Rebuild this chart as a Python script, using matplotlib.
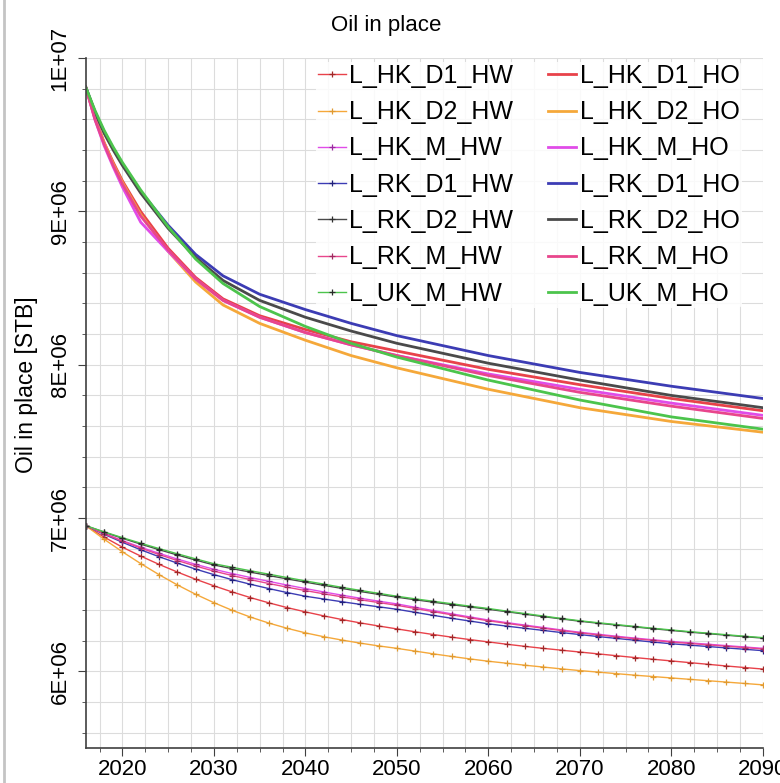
import numpy as np
import matplotlib
matplotlib.use("Agg")
import matplotlib.pyplot as plt
from matplotlib.lines import Line2D
from matplotlib.ticker import MultipleLocator, FuncFormatter

plt.rcParams['font.family'] = ['Liberation Sans', 'DejaVu Sans']

# HO cases (solid), values in million STB
years_ho = [2016, 2017, 2018, 2019, 2020, 2022, 2025, 2028, 2031, 2035,
            2040, 2045, 2050, 2060, 2070, 2080, 2090]
hk_d1_ho = [9.81, 9.61, 9.45, 9.32, 9.20, 9.00, 8.76, 8.57, 8.43, 8.32, 8.23, 8.15, 8.09, 7.97, 7.87, 7.78, 7.70]
hk_d2_ho = [9.81, 9.61, 9.45, 9.31, 9.19, 8.98, 8.74, 8.54, 8.39, 8.27, 8.16, 8.06, 7.98, 7.84, 7.72, 7.63, 7.56]
hk_m_ho = [9.81, 9.60, 9.43, 9.29, 9.16, 8.93, 8.74, 8.56, 8.42, 8.31, 8.21, 8.13, 8.06, 7.94, 7.84, 7.75, 7.67]
rk_d1_ho = [9.81, 9.65, 9.52, 9.41, 9.31, 9.13, 8.91, 8.72, 8.58, 8.46, 8.36, 8.27, 8.19, 8.06, 7.95, 7.86, 7.78]
rk_d2_ho = [9.81, 9.65, 9.51, 9.40, 9.30, 9.12, 8.89, 8.70, 8.55, 8.42, 8.31, 8.22, 8.14, 8.01, 7.90, 7.80, 7.72]
rk_m_ho = [9.81, 9.60, 9.44, 9.30, 9.18, 8.97, 8.75, 8.56, 8.42, 8.31, 8.21, 8.13, 8.06, 7.93, 7.82, 7.73, 7.65]
uk_m_ho = [9.81, 9.66, 9.53, 9.42, 9.32, 9.14, 8.90, 8.69, 8.53, 8.38, 8.25, 8.14, 8.05, 7.90, 7.77, 7.66, 7.58]

# HW cases (thin with markers), every 2 years
years_hw = list(range(2016, 2091, 2))
hk_d1_hw = [6.950, 6.876, 6.810, 6.752, 6.698, 6.648, 6.601, 6.558, 6.518, 6.481,
            6.447, 6.416, 6.388, 6.362, 6.338, 6.316, 6.296, 6.277, 6.258, 6.240,
            6.223, 6.207, 6.192, 6.177, 6.163, 6.150, 6.138, 6.126, 6.114, 6.102,
            6.090, 6.079, 6.068, 6.057, 6.046, 6.035, 6.025, 6.015]
hk_d2_hw = [6.950, 6.862, 6.780, 6.703, 6.631, 6.564, 6.503, 6.448, 6.398, 6.354,
            6.315, 6.281, 6.251, 6.226, 6.204, 6.184, 6.166, 6.150, 6.132, 6.114,
            6.097, 6.081, 6.066, 6.053, 6.040, 6.028, 6.016, 6.005, 5.995, 5.985,
            5.975, 5.966, 5.957, 5.948, 5.939, 5.930, 5.921, 5.912]
hk_m_hw = [6.950, 6.900, 6.853, 6.810, 6.770, 6.733, 6.698, 6.666, 6.638, 6.612,
           6.587, 6.563, 6.540, 6.518, 6.497, 6.477, 6.458, 6.440, 6.418, 6.396,
           6.375, 6.355, 6.335, 6.318, 6.302, 6.286, 6.270, 6.255, 6.242, 6.229,
           6.217, 6.206, 6.195, 6.186, 6.177, 6.168, 6.159, 6.150]
rk_d1_hw = [6.950, 6.894, 6.842, 6.793, 6.748, 6.706, 6.667, 6.631, 6.598, 6.568,
            6.540, 6.514, 6.490, 6.472, 6.454, 6.437, 6.421, 6.405, 6.385, 6.365,
            6.346, 6.328, 6.310, 6.295, 6.281, 6.267, 6.253, 6.240, 6.227, 6.215,
            6.203, 6.191, 6.180, 6.171, 6.162, 6.153, 6.144, 6.135]
rk_d2_hw = [6.950, 6.908, 6.868, 6.830, 6.794, 6.759, 6.726, 6.694, 6.670, 6.647,
            6.625, 6.603, 6.582, 6.561, 6.541, 6.521, 6.502, 6.484, 6.467, 6.451,
            6.435, 6.420, 6.405, 6.389, 6.373, 6.357, 6.342, 6.327, 6.314, 6.302,
            6.290, 6.278, 6.267, 6.256, 6.246, 6.236, 6.226, 6.217]
rk_m_hw = [6.950, 6.898, 6.849, 6.804, 6.762, 6.723, 6.687, 6.654, 6.625, 6.598,
           6.573, 6.549, 6.527, 6.506, 6.486, 6.467, 6.449, 6.431, 6.410, 6.389,
           6.369, 6.349, 6.330, 6.313, 6.297, 6.281, 6.266, 6.251, 6.238, 6.225,
           6.213, 6.202, 6.191, 6.182, 6.173, 6.164, 6.155, 6.146]
uk_m_hw = [6.950, 6.910, 6.872, 6.836, 6.801, 6.767, 6.734, 6.702, 6.679, 6.656,
           6.634, 6.612, 6.590, 6.569, 6.548, 6.528, 6.509, 6.490, 6.473, 6.457,
           6.441, 6.425, 6.410, 6.393, 6.377, 6.361, 6.345, 6.330, 6.317, 6.305,
           6.293, 6.281, 6.270, 6.259, 6.249, 6.239, 6.229, 6.220]

names = ['L_HK_D1', 'L_HK_D2', 'L_HK_M', 'L_RK_D1', 'L_RK_D2', 'L_RK_M', 'L_UK_M']
colors = ['#e8424a', '#f5a83a', '#e04ce8', '#3c3cb4', '#4a4a4a', '#e8468c', '#4cc44c']
mcolors = ['#a02828', '#e09a30', '#9a2aa0', '#20207a', '#303030', '#a02a60', '#2a2a2a']
hw_series = [hk_d1_hw, hk_d2_hw, hk_m_hw, rk_d1_hw, rk_d2_hw, rk_m_hw, uk_m_hw]
ho_series = [hk_d1_ho, hk_d2_ho, hk_m_ho, rk_d1_ho, rk_d2_ho, rk_m_ho, uk_m_ho]

fig = plt.figure(figsize=(7.8, 7.83), dpi=100)
ax = fig.add_axes([0.110, 0.0447, 0.868, 0.881])

handles = []
for name, c, mc, vals in zip(names, colors, mcolors, hw_series):
    h, = ax.plot(years_hw, np.array(vals) * 1e6, color=c, lw=1.0,
                 marker='+', ms=4, mew=0.9, mec=mc, label=name + '_HW')
    handles.append(h)
for name, c, vals in zip(names, colors, ho_series):
    h, = ax.plot(years_ho, np.array(vals) * 1e6, color=c, lw=2.0,
                 label=name + '_HO')
    handles.append(h)

ax.set_xlim(2016, 2090)
ax.set_ylim(5.5e6, 1.0e7)
ax.xaxis.set_major_locator(MultipleLocator(10))
ax.xaxis.set_minor_locator(MultipleLocator(2.5))
ax.yaxis.set_major_locator(MultipleLocator(1e6))
ax.yaxis.set_minor_locator(MultipleLocator(2e5))
ax.yaxis.set_major_formatter(FuncFormatter(lambda v, p: f"{v:.0E}"))

ax.grid(True, which='both', color='#dcdcdc', lw=0.8)
ax.set_axisbelow(True)
for s in ['top', 'right']:
    ax.spines[s].set_visible(False)
for s in ['left', 'bottom']:
    ax.spines[s].set_color('#404040')
    ax.spines[s].set_linewidth(1.2)

ax.tick_params(axis='both', which='major', length=6, color='#404040', labelsize=16)
ax.tick_params(axis='both', which='minor', length=3, color='#404040')
ax.tick_params(axis='x', pad=2)
ax.tick_params(axis='y', labelrotation=90, pad=5)
for lab in ax.get_yticklabels():
    lab.set_va('center')

fig.text(386 / 780, 1 - 25 / 783, 'Oil in place', ha='center', va='center', fontsize=16)
fig.text(27 / 780, 1 - 385 / 783, 'Oil in place [STB]', ha='center', va='center',
         rotation=90, fontsize=16.5)

leg = ax.legend(handles=handles, ncol=2, loc='upper left',
                bbox_to_anchor=(303 / 780, 1 - 49 / 783), bbox_transform=fig.transFigure,
                fontsize=18, frameon=True, facecolor='white', edgecolor='none',
                framealpha=0.85, borderpad=0.1, handlelength=1.1, handletextpad=0.15,
                labelspacing=0.49, columnspacing=1.4)

fig.add_artist(Line2D([0.005, 0.005], [0, 1], transform=fig.transFigure,
                      color='#c4c4c4', lw=2))

fig.savefig('out.png', dpi=100)
